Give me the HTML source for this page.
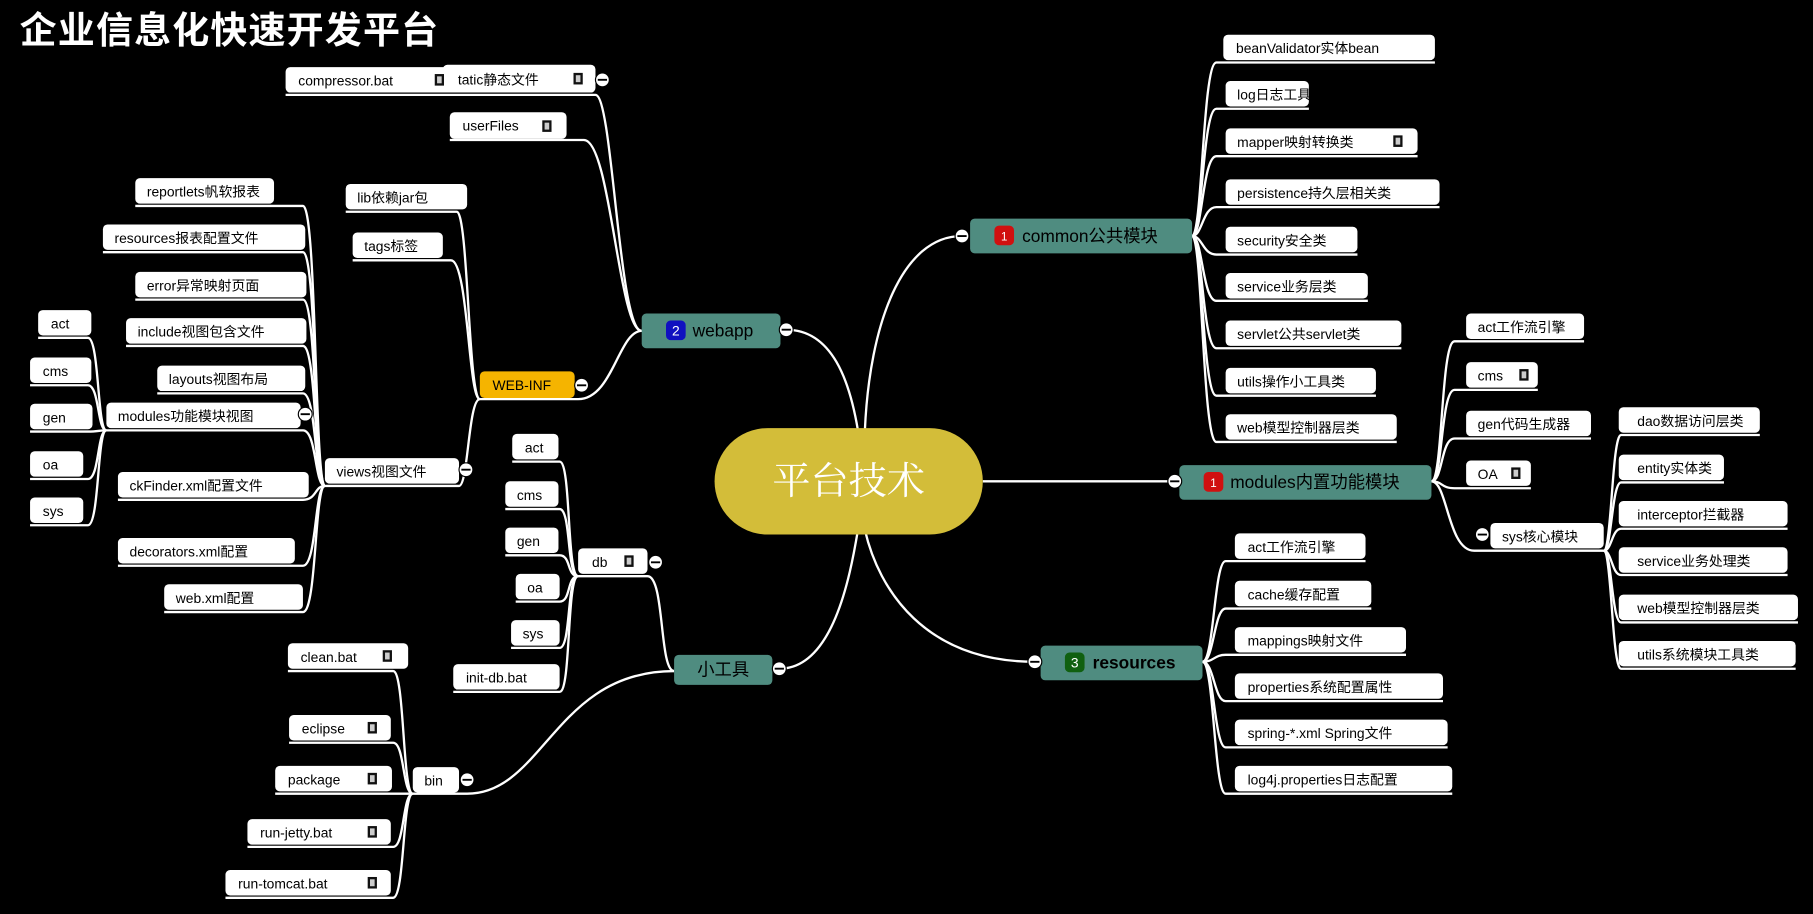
<!DOCTYPE html>
<html><head><meta charset="utf-8"><style>
html,body{margin:0;padding:0;background:#000;width:1813px;height:914px;overflow:hidden}
svg{display:block}
text{font-family:"Liberation Sans","Noto Sans CJK SC",sans-serif;font-size:12px;fill:#000}
.n{fill:#fff}
.c{fill:none;stroke:#fff;stroke-width:2}
.t{fill:#4f8c80}
.tt{font-size:15px}
</style></head><body>
<svg width="1813" height="914" viewBox="0 0 1568 790" preserveAspectRatio="none">
<rect width="1568" height="790" fill="#000"/>
<text x="17" y="37" style="font-size:32px;font-weight:bold;fill:#fff;letter-spacing:1px">企业信息化快速开发平台</text>

<g class="c">
<path d="M680 285 C720 285 735 330 742 372"/>
<path d="M832 204 C780 204 752 280 748 372"/>
<path d="M850 416 L1016 416"/>
<path d="M674 578 C720 578 735 500 742 458"/>
<path d="M895 572 C800 572 760 510 748 458"/>
<path d="M555 286 C535 286 530 82 515 82 L247 82"/>
<path d="M555 286 C535 286 528 121 505 121 L389 121"/>
<path d="M555 286 C535 286 530 345 500 345 L415 345"/>
<path d="M415 345 C405 345 405 183 395 183 L299 183"/>
<path d="M415 345 C405 345 405 225 390 225 L305 225"/>
<path d="M415 345 C405 345 405 420 397 420 L281 420"/>
<path d="M281 420 C272 420 274 178 262 178 L117 178"/>
<path d="M281 420 C272 420 274 218 262 218 L89 218"/>
<path d="M281 420 C272 420 274 259 262 259 L117 259"/>
<path d="M281 420 C272 420 274 299 262 299 L109 299"/>
<path d="M281 420 C272 420 274 340 262 340 L136 340"/>
<path d="M281 420 C272 420 274 372 262 372 L92 372"/>
<path d="M281 420 C272 420 274 432 262 432 L102 432"/>
<path d="M281 420 C272 420 274 489 262 489 L102 489"/>
<path d="M281 420 C272 420 274 529 262 529 L142 529"/>
<path d="M92 372 C84 372 86 292 76 292 L33 292"/>
<path d="M92 372 C84 372 86 333 76 333 L26 333"/>
<path d="M92 372 C84 372 86 373 76 373 L26 373"/>
<path d="M92 372 C84 372 86 414 76 414 L26 414"/>
<path d="M92 372 C84 372 86 454 76 454 L26 454"/>
<path d="M583 580 C570 580 575 498 560 498 L500 498"/>
<path d="M583 580 C480 580 470 686 404 686 L357 686"/>
<path d="M500 498 C490 498 494 399 484 399 L443 399"/>
<path d="M500 498 C490 498 494 440 484 440 L437 440"/>
<path d="M500 498 C490 498 494 480 484 480 L437 480"/>
<path d="M500 498 C490 498 494 520 484 520 L446 520"/>
<path d="M500 498 C490 498 494 560 484 560 L442 560"/>
<path d="M500 498 C490 498 494 598 484 598 L392 598"/>
<path d="M357 686 C348 686 350 580 340 580 L249 580"/>
<path d="M357 686 C348 686 350 642 340 642 L250 642"/>
<path d="M357 686 L238 686"/>
<path d="M357 686 C348 686 350 732 340 732 L214 732"/>
<path d="M357 686 C348 686 350 776 340 776 L195 776"/>
<path d="M1031 204 C1040 204 1040 54 1052 54 L1241 54"/>
<path d="M1031 204 C1040 204 1040 94 1052 94 L1132 94"/>
<path d="M1031 204 C1040 204 1040 135 1052 135 L1226 135"/>
<path d="M1031 204 C1040 204 1040 179 1052 179 L1245 179"/>
<path d="M1031 204 C1040 204 1040 220 1052 220 L1174 220"/>
<path d="M1031 204 C1040 204 1040 260 1052 260 L1183 260"/>
<path d="M1031 204 C1040 204 1040 301 1052 301 L1212 301"/>
<path d="M1031 204 C1040 204 1040 342 1052 342 L1190 342"/>
<path d="M1031 204 C1040 204 1040 382 1052 382 L1208 382"/>
<path d="M1238 416 C1248 416 1246 295 1258 295 L1370 295"/>
<path d="M1238 416 C1248 416 1246 337 1258 337 L1330 337"/>
<path d="M1238 416 C1248 416 1246 379 1258 379 L1376 379"/>
<path d="M1238 416 C1248 416 1246 422 1258 422 L1324 422"/>
<path d="M1238 416 C1252 416 1252 476 1275 476 L1387 476"/>
<path d="M1387 476 C1394 476 1394 376 1402 376 L1522 376"/>
<path d="M1387 476 C1394 476 1394 417 1402 417 L1491 417"/>
<path d="M1387 476 C1394 476 1394 457 1402 457 L1546 457"/>
<path d="M1387 476 C1394 476 1394 497 1402 497 L1546 497"/>
<path d="M1387 476 C1394 476 1394 538 1402 538 L1555 538"/>
<path d="M1387 476 C1394 476 1394 578 1402 578 L1553 578"/>
<path d="M1040 572 C1050 572 1050 485 1060 485 L1181 485"/>
<path d="M1040 572 C1050 572 1050 526 1060 526 L1186 526"/>
<path d="M1040 572 C1050 572 1050 566 1060 566 L1216 566"/>
<path d="M1040 572 C1050 572 1050 606 1060 606 L1248 606"/>
<path d="M1040 572 C1050 572 1050 646 1060 646 L1252 646"/>
<path d="M1040 572 C1050 572 1050 686 1060 686 L1256 686"/>
</g>

<rect x="618" y="370" width="232" height="92" rx="46" fill="#d3bd39"/>
<text x="734" y="427" text-anchor="middle" style="font-size:33px;fill:#fff;font-family:'Noto Serif CJK SC','Liberation Serif',serif">平台技术</text>

<rect class="t" x="555" y="271" width="120" height="30" rx="4"/>
<rect x="576" y="277" width="17" height="17" rx="4" fill="#1010c0"/><text x="584.5" y="290" text-anchor="middle" style="fill:#fff">2</text>
<text class="tt" x="599" y="291">webapp</text>

<rect class="t" x="839" y="189" width="192" height="30" rx="4"/>
<rect x="860" y="195" width="17" height="17" rx="4" fill="#d01010"/><text x="868.5" y="208" text-anchor="middle" style="fill:#fff;font-size:10px">1</text>
<text class="tt" x="884" y="209">common公共模块</text>

<rect class="t" x="1020" y="402" width="218" height="30" rx="4"/>
<rect x="1041" y="408" width="17" height="17" rx="4" fill="#d01010"/><text x="1049.5" y="421" text-anchor="middle" style="fill:#fff;font-size:10px">1</text>
<text class="tt" x="1064" y="422">modules内置功能模块</text>

<rect class="t" x="900" y="558" width="140" height="30" rx="4"/>
<rect x="921" y="564" width="17" height="17" rx="4" fill="#106010"/><text x="929.5" y="577" text-anchor="middle" style="fill:#fff">3</text>
<text class="tt" x="945" y="578" style="font-weight:bold">resources</text>

<rect class="t" x="583" y="566" width="85" height="26" rx="4"/>
<text class="tt" x="603" y="584">小工具</text>

<rect x="415" y="321" width="82" height="23" rx="4" fill="#f5b400"/>
<text x="426" y="337">WEB-INF</text>

<g>
<rect class="n" x="247" y="58" width="146" height="22" rx="4"/><text x="258" y="74">compressor.bat</text>
<rect class="n" x="383" y="56" width="132" height="24" rx="4"/><text x="396" y="73">tatic静态文件</text>
<rect class="n" x="389" y="97" width="101" height="23" rx="4"/><text x="400" y="113">userFiles</text>
<rect class="n" x="299" y="159" width="105" height="22" rx="4"/><text x="309" y="175">lib依赖jar包</text>
<rect class="n" x="305" y="201" width="78" height="22" rx="4"/><text x="315" y="217">tags标签</text>
<rect class="n" x="117" y="154" width="120" height="22" rx="4"/><text x="127" y="170">reportlets帆软报表</text>
<rect class="n" x="89" y="194" width="175" height="22" rx="4"/><text x="99" y="210">resources报表配置文件</text>
<rect class="n" x="117" y="235" width="148" height="22" rx="4"/><text x="127" y="251">error异常映射页面</text>
<rect class="n" x="109" y="275" width="156" height="22" rx="4"/><text x="119" y="291">include视图包含文件</text>
<rect class="n" x="136" y="316" width="128" height="22" rx="4"/><text x="146" y="332">layouts视图布局</text>
<rect class="n" x="92" y="348" width="168" height="22" rx="4"/><text x="102" y="364">modules功能模块视图</text>
<rect class="n" x="281" y="396" width="116" height="22" rx="4"/><text x="291" y="412">views视图文件</text>
<rect class="n" x="102" y="408" width="165" height="22" rx="4"/><text x="112" y="424">ckFinder.xml配置文件</text>
<rect class="n" x="102" y="465" width="153" height="22" rx="4"/><text x="112" y="481">decorators.xml配置</text>
<rect class="n" x="142" y="505" width="120" height="22" rx="4"/><text x="152" y="521">web.xml配置</text>
<rect class="n" x="33" y="268" width="46" height="22" rx="4"/><text x="44" y="284">act</text>
<rect class="n" x="26" y="309" width="53" height="22" rx="4"/><text x="37" y="325">cms</text>
<rect class="n" x="26" y="349" width="54" height="22" rx="4"/><text x="37" y="365">gen</text>
<rect class="n" x="26" y="390" width="46" height="22" rx="4"/><text x="37" y="406">oa</text>
<rect class="n" x="26" y="430" width="46" height="22" rx="4"/><text x="37" y="446">sys</text>

<rect class="n" x="500" y="474" width="60" height="22" rx="4"/><text x="512" y="490">db</text>
<rect class="n" x="443" y="375" width="40" height="22" rx="4"/><text x="454" y="391">act</text>
<rect class="n" x="437" y="416" width="46" height="22" rx="4"/><text x="447" y="432">cms</text>
<rect class="n" x="437" y="456" width="46" height="22" rx="4"/><text x="447" y="472">gen</text>
<rect class="n" x="446" y="496" width="38" height="22" rx="4"/><text x="456" y="512">oa</text>
<rect class="n" x="442" y="536" width="42" height="22" rx="4"/><text x="452" y="552">sys</text>
<rect class="n" x="392" y="574" width="92" height="22" rx="4"/><text x="403" y="590">init-db.bat</text>
<rect class="n" x="357" y="663" width="40" height="22" rx="4"/><text x="367" y="679">bin</text>
<rect class="n" x="249" y="556" width="104" height="22" rx="4"/><text x="260" y="572">clean.bat</text>
<rect class="n" x="250" y="618" width="88" height="22" rx="4"/><text x="261" y="634">eclipse</text>
<rect class="n" x="238" y="662" width="101" height="22" rx="4"/><text x="249" y="678">package</text>
<rect class="n" x="214" y="708" width="124" height="22" rx="4"/><text x="225" y="724">run-jetty.bat</text>
<rect class="n" x="195" y="752" width="143" height="22" rx="4"/><text x="206" y="768">run-tomcat.bat</text>

<rect class="n" x="1058" y="30" width="183" height="22" rx="4"/><text x="1069" y="46">beanValidator实体bean</text>
<rect class="n" x="1060" y="70" width="72" height="22" rx="4"/><text x="1070" y="86">log日志工具</text>
<rect class="n" x="1060" y="111" width="166" height="22" rx="4"/><text x="1070" y="127">mapper映射转换类</text>
<rect class="n" x="1060" y="155" width="185" height="22" rx="4"/><text x="1070" y="171">persistence持久层相关类</text>
<rect class="n" x="1060" y="196" width="114" height="22" rx="4"/><text x="1070" y="212">security安全类</text>
<rect class="n" x="1060" y="236" width="123" height="22" rx="4"/><text x="1070" y="252">service业务层类</text>
<rect class="n" x="1060" y="277" width="152" height="22" rx="4"/><text x="1070" y="293">servlet公共servlet类</text>
<rect class="n" x="1060" y="318" width="130" height="22" rx="4"/><text x="1070" y="334">utils操作小工具类</text>
<rect class="n" x="1060" y="358" width="148" height="22" rx="4"/><text x="1070" y="374">web模型控制器层类</text>

<rect class="n" x="1268" y="271" width="102" height="22" rx="4"/><text x="1278" y="287">act工作流引擎</text>
<rect class="n" x="1268" y="313" width="62" height="22" rx="4"/><text x="1278" y="329">cms</text>
<rect class="n" x="1268" y="355" width="108" height="22" rx="4"/><text x="1278" y="371">gen代码生成器</text>
<rect class="n" x="1268" y="398" width="56" height="22" rx="4"/><text x="1278" y="414">OA</text>
<rect class="n" x="1289" y="452" width="98" height="22" rx="4"/><text x="1299" y="468">sys核心模块</text>

<rect class="n" x="1400" y="352" width="122" height="22" rx="4"/><text x="1416" y="368">dao数据访问层类</text>
<rect class="n" x="1400" y="393" width="91" height="22" rx="4"/><text x="1416" y="409">entity实体类</text>
<rect class="n" x="1400" y="433" width="146" height="22" rx="4"/><text x="1416" y="449">interceptor拦截器</text>
<rect class="n" x="1400" y="473" width="146" height="22" rx="4"/><text x="1416" y="489">service业务处理类</text>
<rect class="n" x="1400" y="514" width="155" height="22" rx="4"/><text x="1416" y="530">web模型控制器层类</text>
<rect class="n" x="1400" y="554" width="153" height="22" rx="4"/><text x="1416" y="570">utils系统模块工具类</text>

<rect class="n" x="1068" y="461" width="113" height="22" rx="4"/><text x="1079" y="477">act工作流引擎</text>
<rect class="n" x="1068" y="502" width="118" height="22" rx="4"/><text x="1079" y="518">cache缓存配置</text>
<rect class="n" x="1068" y="542" width="148" height="22" rx="4"/><text x="1079" y="558">mappings映射文件</text>
<rect class="n" x="1068" y="582" width="180" height="22" rx="4"/><text x="1079" y="598">properties系统配置属性</text>
<rect class="n" x="1068" y="622" width="184" height="22" rx="4"/><text x="1079" y="638">spring-*.xml Spring文件</text>
<rect class="n" x="1068" y="662" width="188" height="22" rx="4"/><text x="1079" y="678">log4j.properties日志配置</text>
</g>

<g fill="#111">
<rect x="376" y="64" width="8" height="10"/><rect x="496" y="63" width="8" height="10"/>
<rect x="469" y="104" width="8" height="10"/><rect x="540" y="480" width="8" height="10"/>
<rect x="331" y="562" width="8" height="10"/><rect x="318" y="624" width="8" height="10"/>
<rect x="318" y="668" width="8" height="10"/><rect x="318" y="714" width="8" height="10"/>
<rect x="318" y="758" width="8" height="10"/><rect x="1205" y="117" width="8" height="10"/>
<rect x="1314" y="319" width="8" height="10"/><rect x="1307" y="404" width="8" height="10"/>
</g>
<g fill="#ccc">
<rect x="378" y="66" width="4" height="6"/><rect x="498" y="65" width="4" height="6"/>
<rect x="471" y="106" width="4" height="6"/><rect x="542" y="482" width="4" height="6"/>
<rect x="333" y="564" width="4" height="6"/><rect x="320" y="626" width="4" height="6"/>
<rect x="320" y="670" width="4" height="6"/><rect x="320" y="716" width="4" height="6"/>
<rect x="320" y="760" width="4" height="6"/><rect x="1207" y="119" width="4" height="6"/>
<rect x="1316" y="321" width="4" height="6"/><rect x="1309" y="406" width="4" height="6"/>
</g>

<g fill="#fff" stroke="#000" stroke-width="1">
<circle cx="521" cy="69" r="6"/><circle cx="680" cy="285" r="6"/><circle cx="503" cy="333" r="6"/>
<circle cx="264" cy="358" r="6"/><circle cx="403" cy="406" r="6"/><circle cx="567" cy="486" r="6"/>
<circle cx="674" cy="578" r="6"/><circle cx="404" cy="674" r="6"/><circle cx="832" cy="204" r="6"/>
<circle cx="1016" cy="416" r="6"/><circle cx="1282" cy="462" r="6"/><circle cx="895" cy="572" r="6"/>
</g>
<g stroke="#000" stroke-width="1.6">
<path d="M517 69h8M676 285h8M499 333h8M260 358h8M399 406h8M563 486h8M670 578h8M400 674h8M828 204h8M1012 416h8M1278 462h8M891 572h8"/>
</g>
</svg>
</body></html>
